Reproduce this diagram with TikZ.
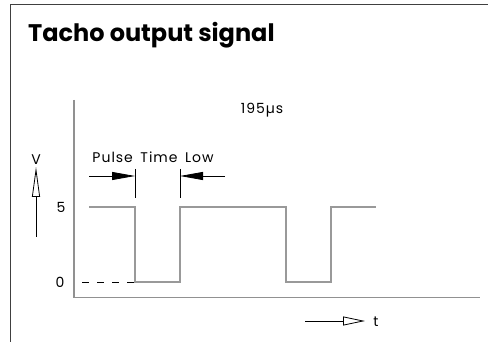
\documentclass[tikz,border=0pt]{standalone}
\usepackage{fontspec}
\setmainfont{Poppins}
\newfontfamily\lblfont[LetterSpace=7,WordSpace=1.6]{Poppins}
\usetikzlibrary{arrows.meta}
\definecolor{frame}{HTML}{404040}
\definecolor{sig}{HTML}{999999}
\tikzset{
  lbl/.style={inner sep=0pt, font=\lblfont\fontsize{14}{16}\selectfont},
  sigline/.style={draw=sig, line width=1.2pt},
  axisline/.style={draw=sig!95!black, line width=1.1pt},
  dim/.style={draw=black, line width=0.8pt},
  openarrow/.style={-{Triangle[open, length=20pt, width=8pt]}, draw=black, line width=0.8pt},
}
\begin{document}
\begin{tikzpicture}[x=1pt, y=-1pt]
\useasboundingbox (0,0) rectangle (488,342);
% outer frame
\draw[frame, line width=1.5pt] (10.5,342) -- (10.5,4.5) -- (488,4.5);
% title
\node[anchor=base west, inner sep=0pt, font=\fontsize{24}{28}\selectfont\bfseries] (title) at (28,42) {Tacho output signal};
% axes
\coordinate (ytop) at (74,100);
\coordinate (orig) at (74,297.5);
\coordinate (xend) at (480,297.5);
\draw[axisline] (ytop) -- (orig) -- (xend);
% signal
\coordinate (s0) at (89,207);
\coordinate (f1h) at (135,207);
\coordinate (f1l) at (135,282);
\coordinate (r1l) at (180,282);
\coordinate (r1h) at (180,207);
\coordinate (f2h) at (286,207);
\coordinate (f2l) at (286,282);
\coordinate (r2l) at (331,282);
\coordinate (r2h) at (331,207);
\coordinate (s1) at (376,207);
\draw[sigline] (s0) -- (f1h) -- (f1l) -- (r1l) -- (r1h) -- (f2h) -- (f2l) -- (r2l) -- (r2h) -- (s1);
% dashed zero line
\coordinate (d0) at (82,282);
\draw[dim, dash pattern=on 7pt off 8pt] (d0) -- (f1l);
% labels
\node[lbl] (five) at (61,207) {5};
\node[lbl] (zero) at (60,282) {0};
\node[lbl] (vlab) at (36,160) {V};
\node[lbl] (period) at (262,110) {195µs};
\node[lbl] (tlab) at (376,321.5) {t};
\node[lbl] (pulse) at (153,157) {Pulse Time Low};
% pulse width dimension
\coordinate (m1t) at (135,169);
\coordinate (m1b) at (135,198);
\coordinate (m2t) at (180,169);
\coordinate (m2b) at (180,198);
\coordinate (a1s) at (89,176);
\coordinate (a1e) at (135,176);
\coordinate (a2s) at (225,176);
\coordinate (a2e) at (180,176);
\draw[dim] (m1t) -- (m1b);
\draw[dim] (m2t) -- (m2b);
\draw[dim, -{Triangle[length=23pt, width=8pt]}] (a1s) -- (a1e);
\draw[dim, -{Triangle[length=23pt, width=8pt]}] (a2s) -- (a2e);
% V arrow
\coordinate (vb) at (36,237);
\coordinate (vt) at (36,167);
\draw[openarrow, -{Triangle[open, length=30pt, width=8pt]}] (vb) -- (vt);
% t arrow
\coordinate (tb) at (305,321);
\coordinate (tt) at (365,321);
\draw[openarrow, -{Triangle[open, length=22pt, width=9pt]}] (tb) -- (tt);
\end{tikzpicture}
\end{document}
